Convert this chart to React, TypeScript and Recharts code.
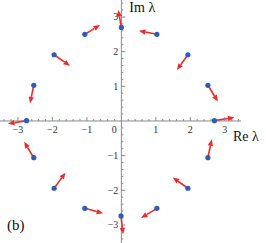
import { ReferenceDot, ReferenceLine, Scatter, ScatterChart, XAxis, YAxis } from 'recharts'

// eigenvalue positions and where each arrow points
const reVals = [0, 1.03, 1.93, 2.51, 2.7, 2.51, 1.93, 1.03, -0.01, -1.06, -1.95, -2.54, -2.75, -2.54, -1.95, -1.06]
const imVals = [2.7, 2.5, 1.91, 1.03, 0.01, -1.06, -1.94, -2.52, -2.74, -2.52, -1.94, -1.06, 0.01, 1.03, 1.91, 2.5]
const tipRe = [-0.09, 0.51, 1.61, 2.8, 3.28, 2.62, 1.49, 0.57, 0.05, -0.53, -1.62, -2.82, -3.29, -2.65, -1.49, -0.62]
const tipIm = [3.2, 2.6, 1.47, 0.56, 0.1, -0.53, -1.63, -2.8, -3.27, -2.66, -1.49, -0.6, -0.08, 0.51, 1.59, 2.77]

const majorTicks = [-3, -2, -1, 1, 2, 3]
const minorTicks = [
  -3.4, -3.2, -2.8, -2.6, -2.4, -2.2, -1.8, -1.6, -1.4, -1.2, -0.8, -0.6, -0.4, -0.2,
  0.2, 0.4, 0.6, 0.8, 1.2, 1.4, 1.6, 1.8, 2.2, 2.4, 2.6, 2.8, 3.2, 3.4,
]
const tickLabels = ['\u22123', '\u22122', '\u22121', '1', '2', '3']

const points = reVals.map((x, i) => ({ x, y: imVals[i] }))

const AXIS = '#8a8a8a'
const RED = '#ee2b2b'
const BLUE = '#2f5cb4'
const FONT = '"Liberation Serif", "DejaVu Serif", serif'

function Arrow(p: any) {
  const { x1, y1, x2, y2 } = p
  const dx = x2 - x1
  const dy = y2 - y1
  const len = Math.sqrt(dx * dx + dy * dy) || 1
  const ux = dx / len
  const uy = dy / len
  const head = 6.5
  const half = 2.7
  const bx = x2 - ux * head
  const by = y2 - uy * head
  return (
    <g>
      <line x1={x1} y1={y1} x2={bx} y2={by} stroke={RED} strokeWidth={1.6} />
      <polygon
        points={`${x2},${y2} ${bx - uy * half},${by + ux * half} ${bx + uy * half},${by - ux * half}`}
        fill={RED}
      />
    </g>
  )
}

export default function App() {
  return (
    <div style={{ position: 'absolute', left: 0, top: 0, background: '#fff' }}>
      <ScatterChart width={266} height={243} margin={{ top: 0, right: 25, bottom: 0, left: 0 }}>
        <XAxis type="number" dataKey="x" domain={[-3.52, 3.47]} hide allowDataOverflow />
        <YAxis type="number" dataKey="y" domain={[-3.52, 3.49]} hide allowDataOverflow />
        <ReferenceLine x={0} stroke={AXIS} strokeWidth={1} ifOverflow="visible" />
        <ReferenceLine y={0} stroke={AXIS} strokeWidth={1} ifOverflow="visible" />
        {minorTicks.map((t) => (
          <ReferenceDot
            key={'mx' + t}
            x={t}
            y={0}
            ifOverflow="visible"
            shape={(p: any) => <line x1={p.cx} y1={p.cy} x2={p.cx} y2={p.cy - 2} stroke={AXIS} />}
          />
        ))}
        {minorTicks.map((t) => (
          <ReferenceDot
            key={'my' + t}
            x={0}
            y={t}
            ifOverflow="visible"
            shape={(p: any) => <line x1={p.cx} y1={p.cy} x2={p.cx + 2} y2={p.cy} stroke={AXIS} />}
          />
        ))}
        {majorTicks.map((t, i) => (
          <ReferenceDot
            key={'Mx' + t}
            x={t}
            y={0}
            ifOverflow="visible"
            shape={(p: any) => (
              <g>
                <line x1={p.cx} y1={p.cy} x2={p.cx} y2={p.cy - 4} stroke={AXIS} />
                <text x={p.cx} y={p.cy + 12} textAnchor="middle" fontSize={10} fontFamily={FONT} fill="#333">
                  {tickLabels[i]}
                </text>
              </g>
            )}
          />
        ))}
        {majorTicks.map((t, i) => (
          <ReferenceDot
            key={'My' + t}
            x={0}
            y={t}
            ifOverflow="visible"
            shape={(p: any) => (
              <g>
                <line x1={p.cx} y1={p.cy} x2={p.cx + 4} y2={p.cy} stroke={AXIS} />
                <text x={p.cx - 3} y={p.cy + 3.5} textAnchor="end" fontSize={10} fontFamily={FONT} fill="#333">
                  {tickLabels[i]}
                </text>
              </g>
            )}
          />
        ))}
        <ReferenceDot
          x={0}
          y={0}
          ifOverflow="visible"
          shape={(p: any) => (
            <text x={p.cx - 7} y={p.cy + 12} textAnchor="middle" fontSize={10} fontFamily={FONT} fill="#333">
              0
            </text>
          )}
        />
        {reVals.map((x, i) => (
          <ReferenceLine
            key={'a' + i}
            segment={[
              { x, y: imVals[i] },
              { x: tipRe[i], y: tipIm[i] },
            ]}
            ifOverflow="visible"
            shape={Arrow}
          />
        ))}
        <Scatter data={points} fill={BLUE} isAnimationActive={false} shape={(p: any) => <circle cx={p.cx} cy={p.cy} r={2.6} fill={BLUE} />} />
        <ReferenceDot
          x={0}
          y={3.49}
          ifOverflow="visible"
          shape={(p: any) => (
            <text x={p.cx + 8} y={p.cy + 12} fontSize={14} fontFamily={FONT} fill="#111">
              Im λ
            </text>
          )}
        />
        <ReferenceDot
          x={3.47}
          y={0}
          ifOverflow="visible"
          shape={(p: any) => (
            <text x={p.cx - 8} y={p.cy + 20} fontSize={14} fontFamily={FONT} fill="#111">
              Re λ
            </text>
          )}
        />
        <ReferenceDot
          x={-3.52}
          y={-3.52}
          ifOverflow="visible"
          shape={(p: any) => (
            <text x={p.cx + 7} y={p.cy - 13} fontSize={15} fontFamily={FONT} fill="#111">
              (b)
            </text>
          )}
        />
      </ScatterChart>
    </div>
  )
}
